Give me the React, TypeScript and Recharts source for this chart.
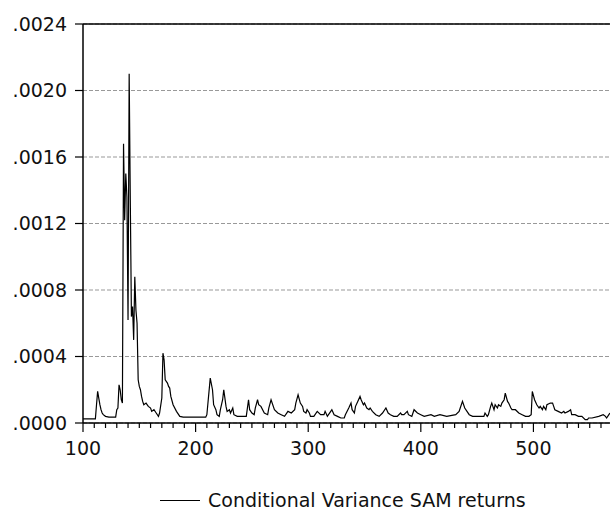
import React from 'react';
import { LineChart, Line, XAxis, YAxis, CartesianGrid, ReferenceLine, Legend } from 'recharts';

const obs = [
  100, 111, 112, 113, 114, 115, 116, 117, 118, 120, 123, 129, 130, 131, 132, 133, 134, 135,
  136, 137, 138, 139, 140, 141, 142, 143, 144, 145, 146, 147, 148, 149, 150, 151, 152, 153,
  154, 156, 158, 160, 161, 163, 165, 167, 168, 170, 171, 172, 173, 175, 176, 177, 178, 180,
  183, 186, 189, 209, 210, 213, 215, 216, 218, 219, 221, 222, 224, 225, 227, 228, 230, 231,
  233, 234, 237, 245, 247, 248, 250, 252, 253, 255, 256, 258, 261, 264, 265, 267, 270, 273,
  276, 279, 282, 285, 288, 289, 291, 293, 295, 296, 298, 299, 301, 302, 305, 308, 311, 314,
  315, 317, 320, 321, 323, 326, 329, 332, 333, 336, 338, 339, 341, 342, 344, 346, 347, 349,
  350, 352, 354, 355, 357, 360, 363, 366, 369, 371, 373, 376, 379, 382, 383, 385, 388, 389,
  392, 394, 397, 400, 403, 409, 412, 417, 423, 431, 434, 435, 437, 439, 441, 443, 446, 456,
  457, 459, 460, 462, 463, 465, 466, 468, 469, 471, 472, 474, 475, 477, 478, 480, 481, 484,
  487, 490, 493, 496, 498, 499, 501, 503, 505, 506, 508, 509, 511, 512, 515, 517, 518, 519,
  522, 525, 527, 528, 531, 533, 534, 537, 540, 543, 546, 548, 549, 552, 558, 562, 564, 565,
  567, 568,
];

const variance = [
  0.000025, 0.000025, 0.00011, 0.00019, 0.00015, 0.00011, 0.00008, 0.00006, 0.00005, 0.00004, 0.000035, 0.000035, 0.00008, 0.00009, 0.00023, 0.0002, 0.00014, 0.00012,
  0.00168, 0.00122, 0.0015, 0.00136, 0.00062, 0.0021, 0.00134, 0.00064, 0.0007, 0.0005, 0.00088, 0.00068, 0.0006, 0.00026, 0.00022, 0.0002, 0.00016, 0.00013,
  0.00011, 0.00012, 0.0001, 0.00009, 0.00007, 0.00008, 0.00006, 0.00004, 0.00006, 0.00015, 0.00042, 0.00038, 0.00026, 0.00024, 0.00022, 0.00021, 0.00016, 0.00011,
  0.00007, 0.00004, 0.000035, 0.000035, 0.00005, 0.00027, 0.0002, 0.00011, 0.00008, 0.00005, 0.00004, 0.00008, 0.00014, 0.0002, 0.0001, 0.00007, 0.00008, 0.00006,
  0.00009, 0.00005, 0.00004, 0.00004, 0.00014, 0.00008, 0.00006, 0.00005, 0.00009, 0.00014, 0.00011, 0.0001, 0.00006, 0.00005, 0.00009, 0.00014, 0.00008, 0.00006,
  0.00005, 0.00004, 0.00007, 0.00006, 0.00008, 0.00012, 0.00017, 0.00012, 0.0001, 0.00007, 0.00006, 0.00008, 0.00006, 0.00004, 0.00004, 0.00007, 0.00005, 0.00005,
  0.00007, 0.00004, 0.00007, 0.00008, 0.00005, 0.00004, 0.00003, 0.00003, 0.00005, 0.00009, 0.00012, 0.00008, 0.00006, 0.0001, 0.00013, 0.00016, 0.00014, 0.00011,
  0.00012, 0.00009, 0.00008, 0.00009, 0.00007, 0.00005, 0.00004, 0.00006, 0.00009, 0.00006, 0.00005, 0.00004, 0.00004, 0.00006, 0.00005, 0.00005, 0.00007, 0.00005,
  0.00004, 0.00008, 0.00006, 0.00005, 0.00004, 0.00005, 0.00004, 0.00005, 0.00004, 0.00005, 0.00007, 0.00009, 0.00013, 0.00009, 0.00007, 0.00005, 0.00004, 0.00004,
  0.00006, 0.00004, 0.00005, 0.0001, 0.00012, 0.00008, 0.00011, 0.00009, 0.00011, 0.0001, 0.00012, 0.00014, 0.00018, 0.00013, 0.00012, 0.00009, 0.00008, 0.00008,
  0.00006, 0.00005, 0.00004, 0.00004, 0.00005, 0.00019, 0.00014, 0.00011, 0.00009, 0.0001, 0.00008, 0.0001, 0.00008, 0.00011, 0.00012, 0.00012, 0.0001, 0.00008,
  0.00007, 0.00006, 0.00007, 0.00006, 0.00007, 0.00008, 0.00005, 0.00005, 0.00004, 0.00004, 0.00002, 0.00002, 0.00003, 0.00003, 0.00004, 0.00005, 0.00004, 0.00003,
  0.00005, 0.00006,
];

const xTicks = [
  100, 110, 120, 130, 140, 150, 160, 170, 180, 190, 200, 210, 220, 230, 240, 250, 260, 270,
  280, 290, 300, 310, 320, 330, 340, 350, 360, 370, 380, 390, 400, 410, 420, 430, 440, 450,
  460, 470, 480, 490, 500, 510, 520, 530, 540, 550, 560,
];
const yTicks = [0, 0.0004, 0.0008, 0.0012, 0.0016, 0.002, 0.0024];

const seriesName = 'Conditional Variance SAM returns';

const data = obs.map((o, i) => ({ obs: o, v: variance[i] }));

const FONT = '"DejaVu Sans", Verdana, sans-serif';

const XTick = (props: any) => {
  const { x, y, payload } = props;
  const major = payload.value % 100 === 0;
  return (
    <g>
      <line x1={x} x2={x} y1={y} y2={y + (major ? 9 : 5)} stroke="#000" strokeWidth={1.2} />
      {major && (
        <text x={x} y={y + 32} textAnchor="middle" fill="#111" fontSize={19} fontFamily={FONT}>
          {payload.value}
        </text>
      )}
    </g>
  );
};

const YTick = (props: any) => {
  const { x, y, payload } = props;
  const label = payload.value.toFixed(4).replace(/^0/, '');
  return (
    <text x={x} y={y} dy="0.36em" textAnchor="end" fill="#111" fontSize={19} fontFamily={FONT}>
      {label}
    </text>
  );
};

const renderLegend = () => (
  <div style={{ position: 'relative', width: 610, height: 24 }}>
    <svg style={{ position: 'absolute', left: 160, top: 0 }} width={40} height={24}>
      <line x1={0} x2={40} y1={12.5} y2={12.5} stroke="#000" strokeWidth={1.2} />
    </svg>
    <span
      style={{
        position: 'absolute',
        left: 208,
        top: 0,
        lineHeight: '24px',
        fontSize: 19,
        fontFamily: FONT,
        color: '#111',
        whiteSpace: 'nowrap',
      }}
    >
      {seriesName}
    </span>
  </div>
);

const App: React.FC = () => {
  return (
    <div style={{ position: 'absolute', left: 0, top: 0, width: 610, height: 515, background: '#fff' }}>
      <LineChart width={610} height={515} data={data} margin={{ top: 24, right: 0, left: 0, bottom: 3 }}>
        <CartesianGrid vertical={false} stroke="#999" strokeDasharray="4 2" />
        <XAxis
          dataKey="obs"
          type="number"
          domain={[100, 568]}
          ticks={xTicks}
          interval={0}
          height={65}
          tickSize={0}
          tickMargin={0}
          tickLine={false}
          tick={<XTick />}
          axisLine={{ stroke: '#000', strokeWidth: 1.5 }}
          allowDataOverflow
        />
        <YAxis
          type="number"
          domain={[0, 0.0024]}
          ticks={yTicks}
          interval={0}
          width={83}
          tickSize={8}
          tickMargin={8}
          tickLine={{ stroke: '#000', strokeWidth: 1.2 }}
          tick={<YTick />}
          axisLine={{ stroke: '#000', strokeWidth: 1.5 }}
        />
        <ReferenceLine y={0.0024} stroke="#000" strokeWidth={1.5} />
        <Legend verticalAlign="bottom" content={renderLegend} />
        <Line
          type="linear"
          dataKey="v"
          name={seriesName}
          stroke="#000"
          strokeWidth={1.2}
          dot={false}
          isAnimationActive={false}
        />
      </LineChart>
    </div>
  );
};

export default App;
